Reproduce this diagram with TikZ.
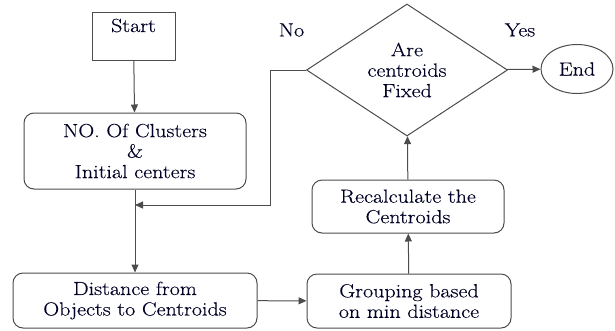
\documentclass[tikz,border=0pt]{standalone}
\usepackage{fontspec}
\setmainfont{Latin Modern Roman}[FakeStretch=1.16, FakeBold=0.3]
\usetikzlibrary{arrows.meta, shapes.geometric}

\begin{document}
\begin{tikzpicture}[x=1pt, y=-1pt, line width=1pt,
                    every node/.style={font=\fontsize{19}{20.5}\selectfont, text=black!85!blue, align=center},
                    box/.style={draw=black!70, rectangle, rounded corners=10pt, inner sep=0pt},
                    arr/.style={draw=black!70, -{Triangle[length=8pt,width=7pt]}}]
                    \useasboundingbox (0,0) rectangle (615,330);
                    \node (Start) [draw=black!70, rectangle, inner sep=0pt, minimum width=83pt,
                                   text height=20pt, text depth=28pt] at (133.5,36) {Start};
                    \node (Clusters) [box, minimum width=222pt, minimum height=76pt] at (135,151)
                        {NO. Of Clusters\\ \&\\ Initial centers};
                    \node (Distance) [box, minimum width=244pt, minimum height=55pt] at (135,300.5)
                        {Distance from\\ Objects to Centroids};
                    \node (Grouping) [box, minimum width=204pt, minimum height=54pt] at (409,301)
                        {Grouping based\\ on min distance};
                    \node (Recalc) [box, minimum width=192pt, minimum height=53pt] at (408,206.5)
                        {Recalculate the\\ Centroids};
                    \node (Check) [draw=black!70, diamond, aspect=1.52, inner sep=0pt,
                                   minimum width=201pt, minimum height=132pt] at (407,70)
                        {Are\\ centroids\\ Fixed};
                    \node (End) [draw=black!70, ellipse, inner sep=0pt,
                                 minimum width=72pt, minimum height=49pt] at (577,69) {End};
                    \node (No) at (291.5,30) {No};
                    \node (Yes) at (520,30) {Yes};
                    \coordinate (Turn) at (270,205);
                    \coordinate (Merge) at (Clusters.south |- Turn);
                    \draw[arr] (Start) -- (Clusters);
                    \draw[arr] (Clusters) -- (Distance);
                    \draw[arr] (Distance) -- (Grouping);
                    \draw[arr] (Grouping) -- (Recalc);
                    \draw[arr] (Recalc) -- (Check);
                    \draw[arr] (Check) -- (End);
                    \draw[arr] (Check.west) -| (Turn) -- (Merge);
                \end{tikzpicture}
\end{document}
